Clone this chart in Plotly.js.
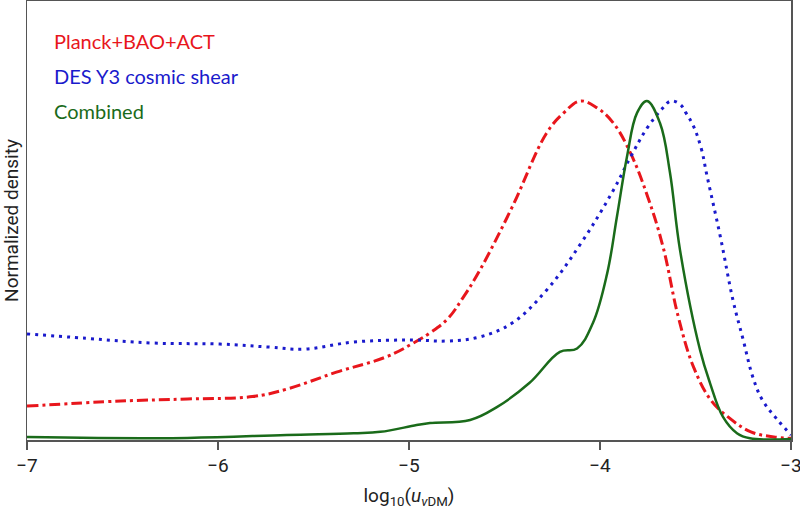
<!DOCTYPE html>
<html>
<head>
<meta charset="utf-8">
<script src="https://cdn.plot.ly/plotly-3.0.1.min.js"></script>
<style>
  html, body { margin: 0; padding: 0; background: #fff; }
  #myDiv { width: 800px; height: 513px; }
</style>
</head>
<body>
<div id="myDiv"></div>
<script>
// values, normalized so each peak is 1
var planckX = [-7.0, -6.51, -6.16, -5.82, -5.64, -5.38, -5.12, -4.98, -4.89, -4.80, -4.717, -4.63, -4.46, -4.28, -4.19, -4.105, -4.016, -3.93, -3.84, -3.75, -3.67, -3.59, -3.51, -3.42, -3.33, -3.21, -3.09, -3.0];
var planckY = [0.10, 0.115, 0.121, 0.128, 0.15, 0.20, 0.245, 0.285, 0.316, 0.356, 0.42, 0.50, 0.687, 0.905, 0.965, 1.0, 0.98, 0.935, 0.846, 0.717, 0.57, 0.363, 0.215, 0.118, 0.068, 0.024, 0.009, 0.005];

var desX = [-7.0, -6.69, -6.34, -5.99, -5.73, -5.55, -5.29, -4.98, -4.80, -4.63, -4.46, -4.28, -4.10, -3.93, -3.84, -3.75, -3.67, -3.63, -3.58, -3.55, -3.51, -3.47, -3.44, -3.37, -3.304, -3.25, -3.20, -3.15, -3.07, -3.0];
var desY = [0.313, 0.30, 0.286, 0.283, 0.274, 0.268, 0.289, 0.295, 0.292, 0.304, 0.345, 0.442, 0.58, 0.737, 0.835, 0.923, 0.98, 1.0, 0.99, 0.965, 0.925, 0.86, 0.78, 0.60, 0.413, 0.295, 0.186, 0.118, 0.059, 0.015];

var combX = [-7.0, -6.16, -5.64, -5.29, -5.15, -4.96, -4.89, -4.68, -4.54, -4.37, -4.21, -4.12, -4.037, -3.963, -3.911, -3.859, -3.806, -3.754, -3.686, -3.634, -3.581, -3.476, -3.424, -3.356, -3.283, -3.215, -3.0];
var combY = [0.009, 0.006, 0.015, 0.02, 0.024, 0.044, 0.05, 0.059, 0.097, 0.168, 0.26, 0.27, 0.345, 0.49, 0.66, 0.835, 0.965, 1.0, 0.935, 0.79, 0.56, 0.265, 0.168, 0.068, 0.02, 0.005, 0.003];

var seriesNames = ['Planck+BAO+ACT', 'DES Y3 cosmic shear', 'Combined'];
var seriesColors = ['#e8161c', '#1a1acc', '#1a6b1a'];
var xTicks = [-7, -6, -5, -4, -3];
var xTickText = ['\u22127', '\u22126', '\u22125', '\u22124', '\u22123'];

var traces = [
  {x: planckX, y: planckY, name: seriesNames[0], mode: 'lines',
   line: {color: seriesColors[0], width: 3, dash: '11px,4px,3px,4px', shape: 'spline', smoothing: 1.1}},
  {x: desX, y: desY, name: seriesNames[1], mode: 'lines',
   line: {color: seriesColors[1], width: 3, dash: '3px,5px', shape: 'spline', smoothing: 1.1}},
  {x: combX, y: combY, name: seriesNames[2], mode: 'lines',
   line: {color: seriesColors[2], width: 2.5, shape: 'spline', smoothing: 1.1}}
];

var annotations = seriesNames.map(function (name, i) {
  return {
    xref: 'paper', yref: 'paper', x: 0.033, y: 0.91 - i * 0.08,
    xanchor: 'left', yanchor: 'middle', showarrow: false,
    text: name, font: {family: 'Lato, sans-serif', size: 20, color: seriesColors[i]}
  };
});

var layout = {
  width: 800, height: 513,
  margin: {l: 27, r: 9, t: 1, b: 73},
  paper_bgcolor: '#fff', plot_bgcolor: '#fff',
  showlegend: false,
  font: {family: 'Roboto, Liberation Sans, sans-serif', size: 19, color: '#222'},
  xaxis: {
    range: [-7, -3], tickvals: xTicks, ticktext: xTickText,
    ticks: 'outside', ticklen: 8, tickwidth: 1.2, tickcolor: '#555',
    ticklabeloverflow: 'allow',
    showline: true, linecolor: '#555', linewidth: 1.5, mirror: true,
    showgrid: false, zeroline: false,
    tickfont: {size: 19, color: '#222'},
    title: {text: 'log<sub>10</sub>(<i>u</i><sub><i>\u03bd</i>DM</sub>)', font: {size: 19, color: '#222'}, standoff: 12}
  },
  yaxis: {
    range: [0, 1.295], showticklabels: false, ticks: '',
    showline: true, linecolor: '#555', linewidth: 1.5, mirror: true,
    showgrid: false, zeroline: false,
    title: {text: 'Normalized density', font: {size: 19, color: '#222'}, standoff: 4}
  },
  annotations: annotations
};

Plotly.newPlot('myDiv', traces, layout, {displayModeBar: false, staticPlot: true});
</script>
</body>
</html>
